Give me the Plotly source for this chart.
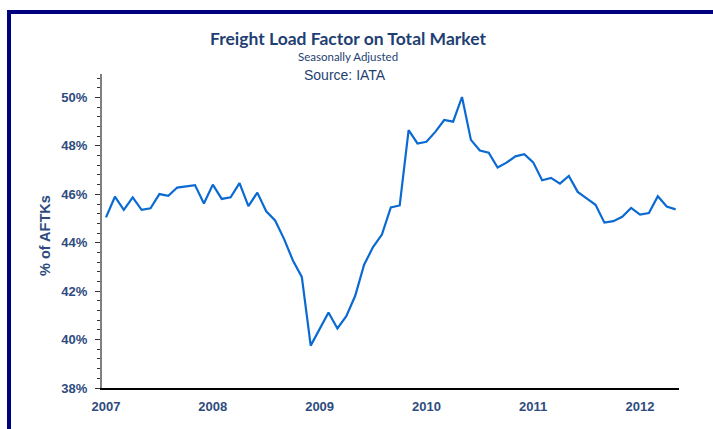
import plotly.graph_objects as go

months = [f"{y}-{m:02d}" for y in range(2007, 2013) for m in range(1, 13)][:65]
load_factor = [
    45.05, 45.90, 45.36, 45.87, 45.36, 45.42, 46.01, 45.94, 46.28, 46.32, 46.38, 45.62,
    46.40, 45.81, 45.88, 46.46, 45.51, 46.07, 45.30, 44.92, 44.16, 43.27, 42.59, 39.75,
    40.46, 41.12, 40.46, 40.97, 41.81, 43.09, 43.82, 44.34, 45.46, 45.54, 48.65, 48.10,
    48.17, 48.58, 49.07, 49.00, 50.02, 48.25, 47.81, 47.72, 47.11, 47.31, 47.57, 47.66,
    47.32, 46.58, 46.68, 46.44, 46.76, 46.10, 45.83, 45.57, 44.83, 44.89, 45.07, 45.44,
    45.16, 45.23, 45.92, 45.50, 45.38,
]
year_ticks = ["2007", "2008", "2009", "2010", "2011", "2012"]
y_ticks = [38, 40, 42, 44, 46, 48, 50]
y_tick_labels = [f"<b>{v}%</b>" for v in y_ticks]

x_idx = list(range(len(months)))
tick_pos = [months.index(f"{y}-01") for y in year_ticks]

W, H = 713, 429
L, R, T, B = 102, 34, 74, 41
pw, ph = W - L - R, H - T - B


def px(x):
    return (x - L) / pw


def py(y):
    return (H - B - y) / ph


fig = go.Figure()
fig.add_trace(go.Scatter(
    x=x_idx, y=load_factor, mode="lines",
    line=dict(color="#0A6AD2", width=2.2),
    customdata=months, hovertemplate="%{customdata}: %{y:.1f}%<extra></extra>",
))

label_font = dict(family="Liberation Sans, Arial", size=13, color="#2E4B7E")
title_col = "#1F3F73"

fig.update_layout(
    width=W, height=H,
    margin=dict(l=L, r=R, t=T, b=B),
    paper_bgcolor="white", plot_bgcolor="white",
    showlegend=False,
    xaxis=dict(
        range=[-0.45, 64.38], tickvals=tick_pos, ticktext=[f"<b>{t}</b>" for t in year_ticks],
        showgrid=False, zeroline=False, showline=True, linecolor="#000000", linewidth=1.5,
        ticks="", tickfont=label_font, ticklabelstandoff=6,
    ),
    yaxis=dict(
        range=[38, 50.97], tickvals=y_ticks, ticktext=y_tick_labels,
        showgrid=False, zeroline=False, showline=True, linecolor="#7F7F7F", linewidth=2,
        ticks="outside", ticklen=5, tickcolor="#333333", tickwidth=1.2,
        minor=dict(dtick=0.4, tick0=38, ticks="outside", ticklen=3, tickcolor="#333333", tickwidth=1),
        tickfont=label_font, ticklabelstandoff=5,
    ),
    annotations=[
        dict(text="<b>Freight Load Factor on Total Market</b>", xref="paper", yref="paper",
             x=px(348), y=py(38), showarrow=False, xanchor="center", yanchor="middle",
             font=dict(family="Lato", size=17.5, color=title_col)),
        dict(text="Seasonally Adjusted", xref="paper", yref="paper",
             x=px(348), y=py(57), showarrow=False, xanchor="center", yanchor="middle",
             font=dict(family="Lato", size=11.5, color=title_col)),
        dict(text="Source: IATA", xref="paper", yref="paper",
             x=px(345), y=py(74.5), showarrow=False, xanchor="center", yanchor="middle",
             font=dict(family="Liberation Sans, Arial", size=14, color=title_col)),
        dict(text="<b>% of AFTKs</b>", xref="paper", yref="paper", textangle=-90,
             x=px(45), y=py(236), showarrow=False, xanchor="center", yanchor="middle",
             font=dict(family="Liberation Sans, Arial", size=14.5, color="#2E4B7E")),
    ],
    shapes=[
        dict(type="line", xref="paper", yref="paper",
             x0=px(7), x1=px(W + 5), y0=py(12), y1=py(12),
             line=dict(color="#000080", width=4)),
        dict(type="line", xref="paper", yref="paper",
             x0=px(9), x1=px(9), y0=py(10), y1=py(H + 5),
             line=dict(color="#000080", width=4)),
    ],
)

fig.write_html("out.html", config={"displayModeBar": False},
               post_script="document.body.style.margin='0';")
